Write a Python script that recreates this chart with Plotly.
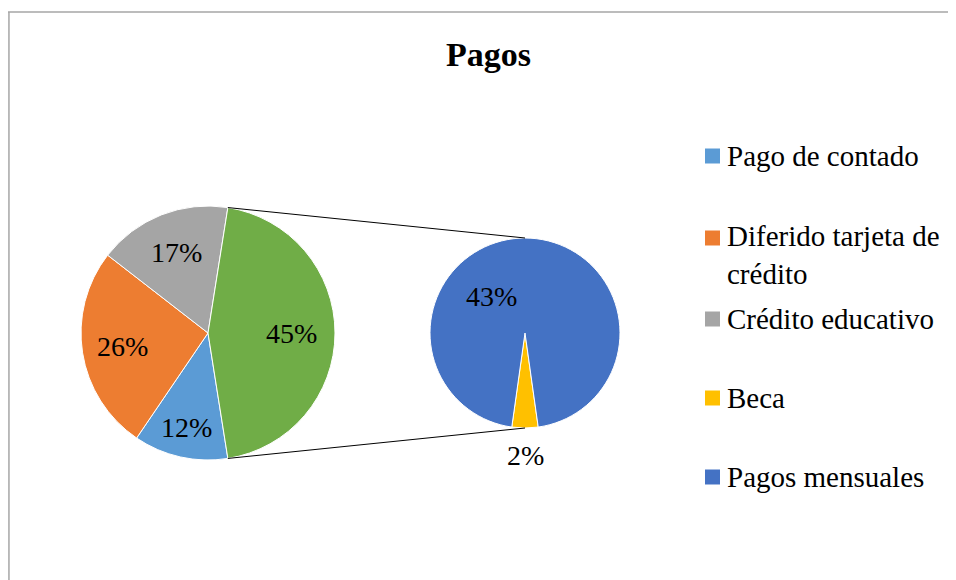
import math
import plotly.graph_objects as go

# ---------------- data ----------------
main_labels = ["Pago de contado", "Diferido tarjeta de crédito", "Crédito educativo", "Otros"]
main_values = [12, 26, 17, 45]
main_colors = ["#5B9BD5", "#ED7D31", "#A5A5A5", "#70AD47"]

sec_labels = ["Beca", "Pagos mensuales"]
sec_values = [2, 43]
sec_colors = ["#FFC000", "#4472C4"]

legend_labels = ["Pago de contado", "Diferido tarjeta de<br>crédito", "Crédito educativo", "Beca", "Pagos mensuales"]
legend_colors = ["#5B9BD5", "#ED7D31", "#A5A5A5", "#FFC000", "#4472C4"]

title_text = "Pagos"

# ---------------- layout constants ----------------
OX, OY = 8, 8            # page body margin
W, H = 948, 572
FONT = "Liberation Serif"
MAIN_C, MAIN_R = (208, 333), 127
SEC_C, SEC_R = (525, 333), 95
main_label_rf = [0.76, 0.68, 0.68, 0.66]
sec_label_pos = [(180, 1.29), (318, 0.52)]  # (angle deg, radius fraction)
legend_y = [156, 238, 319, 398, 477]
legend_x = 705
SQ = 15


def px(x):
    return (x - OX) / W


def py(y):
    return 1 - (y - OY) / H


def point(c, r, ang):
    a = math.radians(ang)
    return c[0] + r * math.sin(a), c[1] - r * math.cos(a)


total = sum(main_values)
other_ang = main_values[-1] / total * 360
main_rot = 90 + other_ang / 2          # "other" slice centred on the right side
sec_total = sum(sec_values)
beca_ang = sec_values[0] / sec_total * 360
sec_rot = 180 - beca_ang / 2           # small slice centred at the bottom

fig = go.Figure()
fig.add_trace(go.Pie(
    labels=main_labels, values=main_values, sort=False, direction="clockwise",
    rotation=main_rot, marker=dict(colors=main_colors, line=dict(color="white", width=1)),
    textinfo="none", showlegend=False,
    domain=dict(x=[px(MAIN_C[0] - MAIN_R), px(MAIN_C[0] + MAIN_R)],
                y=[py(MAIN_C[1] + MAIN_R), py(MAIN_C[1] - MAIN_R)]),
))
fig.add_trace(go.Pie(
    labels=sec_labels, values=sec_values, sort=False, direction="clockwise",
    rotation=sec_rot, marker=dict(colors=sec_colors, line=dict(color="white", width=1)),
    textinfo="none", showlegend=False,
    domain=dict(x=[px(SEC_C[0] - SEC_R), px(SEC_C[0] + SEC_R)],
                y=[py(SEC_C[1] + SEC_R), py(SEC_C[1] - SEC_R)]),
))

annotations = []
shapes = []

# main pie labels
cum = main_rot
for v, rf in zip(main_values, main_label_rf):
    ang = v / total * 360
    mid = cum + ang / 2
    x, y = point(MAIN_C, MAIN_R * rf, mid)
    annotations.append(dict(x=px(x), y=py(y), xref="paper", yref="paper",
                            text=f"{round(v / total * 100)}%", showarrow=False,
                            font=dict(family=FONT, size=28, color="black"),
                            xanchor="center", yanchor="middle"))
    cum += ang

# secondary pie labels (share of overall total)
for v, (ang, rf) in zip(sec_values, sec_label_pos):
    x, y = point(SEC_C, SEC_R * rf, ang)
    annotations.append(dict(x=px(x), y=py(y), xref="paper", yref="paper",
                            text=f"{round(v / total * 100)}%", showarrow=False,
                            font=dict(family=FONT, size=28, color="black"),
                            xanchor="center", yanchor="middle"))

# connector lines
start_other = main_rot - other_ang
end_other = main_rot
for a_main, a_sec in [(start_other, 0), (end_other, 180)]:
    x0, y0 = point(MAIN_C, MAIN_R, a_main)
    x1, y1 = point(SEC_C, SEC_R, a_sec)
    shapes.append(dict(type="line", xref="paper", yref="paper",
                       x0=px(x0), y0=py(y0), x1=px(x1), y1=py(y1),
                       line=dict(color="black", width=1)))

# legend
for lab, col, ly in zip(legend_labels, legend_colors, legend_y):
    shapes.append(dict(type="rect", xref="paper", yref="paper",
                       x0=px(legend_x), x1=px(legend_x + SQ),
                       y0=py(ly - SQ / 2), y1=py(ly + SQ / 2),
                       fillcolor=col, line=dict(width=0)))
    nlines = lab.count("<br>") + 1
    yc = ly + (nlines - 1) * 17
    annotations.append(dict(x=px(legend_x + SQ + 5), y=py(yc), xref="paper", yref="paper",
                            text=lab, showarrow=False, align="left",
                            font=dict(family=FONT, size=29, color="black"),
                            xanchor="left", yanchor="middle"))

# title
annotations.append(dict(x=px(489), y=py(54), xref="paper", yref="paper",
                        text=f"<b>{title_text}</b>", showarrow=False,
                        font=dict(family=FONT, size=34, color="black"),
                        xanchor="center", yanchor="middle"))

# chart border (top and left visible)
shapes.append(dict(type="line", xref="paper", yref="paper", x0=0, x1=1.0,
                   y0=py(12), y1=py(12), line=dict(color="#A6A6A6", width=1.5)))
shapes.append(dict(type="line", xref="paper", yref="paper", x0=0.001, x1=0.001,
                   y0=py(12), y1=0, line=dict(color="#A6A6A6", width=1.5)))

fig.update_layout(width=W, height=H, margin=dict(l=0, r=0, t=0, b=0),
                  paper_bgcolor="white", plot_bgcolor="white",
                  font=dict(family=FONT),
                  annotations=annotations, shapes=shapes, showlegend=False)

fig.write_html("out.html")
